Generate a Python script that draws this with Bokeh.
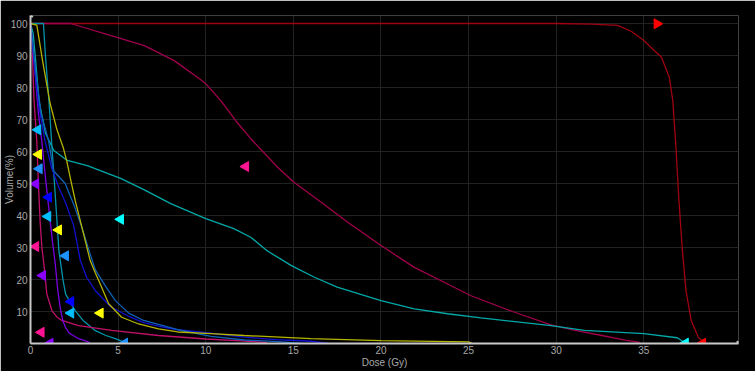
import numpy as np
from bokeh.plotting import figure
from bokeh.models import Range1d, FixedTicker, ColumnDataSource
from bokeh.embed import file_html
from bokeh.resources import INLINE

# ---- DVH curves (dose Gy, volume %) ----
ptv_dose = [0, 30, 32, 33.5, 34.3, 35, 35.6, 36.0, 36.45, 36.65, 36.84, 37.0, 37.2, 37.4, 37.7, 38.1, 38.4, 38.5]
ptv_vol = [100, 100, 99.8, 99.4, 97.5, 94.7, 91.5, 89.5, 83.2, 76, 60.3, 44.7, 29, 16.6, 7.2, 2, 0.4, 0]

crim_dose = [0, 2.3, 4.6, 6.5, 8.2, 9.7, 10.0, 10.86, 11.7, 12.57, 14.1, 15.03, 16.57, 18.1, 20, 21.9, 23.8, 25.1, 27.5, 29.7, 31, 32.6, 34, 34.7, 34.8]
crim_vol = [100, 100, 96.2, 93.1, 88.4, 82.5, 81.2, 75.9, 69.7, 64, 55.1, 50.4, 44.2, 37.9, 30.6, 23.8, 18.6, 15, 10, 5.8, 4.2, 2.5, 1, 0.4, 0]

cyan_dose = [0, 0.15, 0.3, 0.48, 0.86, 1.33, 2.1, 3.24, 5.14, 6.5, 8.0, 10, 11.6, 12.57, 13.5, 14.86, 16.2, 17.5, 20, 21.9, 23.8, 25.7, 29.7, 31.6, 35, 36.9, 37.3, 37.4]
cyan_vol = [100, 97, 88, 76, 65.6, 60.3, 57.2, 55.6, 51.6, 48, 43.7, 39, 35.9, 33.2, 29, 24.4, 20.7, 17.6, 13.4, 10.8, 9.3, 8.0, 5.6, 4.1, 3.1, 1.8, 0.4, 0]

teal_dose = [0, 0.74, 0.85, 1.05, 1.24, 1.43, 1.62, 1.7, 1.85, 2.0, 2.3, 2.55, 3.0, 3.7, 4.3, 4.84, 5.4, 5.45]
teal_vol = [100, 100, 90, 76, 60, 45, 29, 26, 20, 15.5, 12.5, 10.3, 7.2, 4, 2.5, 1.5, 0.3, 0]

pink_dose = [0, 0.1, 0.2, 0.3, 0.36, 0.45, 0.55, 0.65, 0.74, 0.93, 1.22, 1.5, 1.79, 2.74, 4.63, 7.3, 10, 12, 13.5]
pink_vol = [100, 92, 76, 68, 63, 50, 38, 30, 26, 15.5, 10.3, 8.3, 7.2, 5.6, 4.1, 2.5, 1.4, 0.8, 0.3]

purple_dose = [0, 0.15, 0.3, 0.45, 0.65, 0.85, 1.05, 1.25, 1.41, 1.55, 1.7, 1.85, 2.0, 2.2, 2.74, 3.3, 3.4]
purple_vol = [100, 92, 82, 72, 63, 52, 42, 32, 25, 17, 11, 7, 5, 3.3, 1.5, 0.5, 0]

blue_dose = [0, 0.2, 0.45, 0.84, 1.2, 1.6, 2.0, 2.46, 2.84, 3.2, 3.7, 4.57, 5.6, 6.47, 7.3, 8.38, 10.3, 12.2, 14, 16, 17]
blue_vol = [100, 88, 75, 63, 55, 49, 44, 37, 26, 20.7, 16.5, 11.5, 8.5, 6.5, 5.4, 4.3, 3.2, 2.0, 1.2, 0.7, 0]

steel_dose = [0, 0.3, 0.6, 1.03, 1.31, 1.98, 2.5, 2.93, 3.4, 3.7, 4.27, 4.84, 5.6, 6.46, 8.4, 10.3, 12.2, 14.1, 15.5]
steel_vol = [100, 85, 72, 63.4, 54, 50, 43, 36.3, 28, 23, 18, 13.4, 9.5, 7.2, 4.3, 2.2, 1.1, 0.6, 0]

yellow_dose = [0, 0.36, 0.7, 1.12, 1.5, 1.88, 2.07, 2.3, 2.55, 3.12, 3.4, 3.7, 3.98, 4.46, 5.2, 6.17, 7.3, 8.4, 10.3, 12.2, 16, 20, 25, 25.2]
yellow_vol = [100, 99.5, 88, 75, 67, 61, 57, 51, 44.7, 32.2, 26, 22, 18.6, 12.4, 8.2, 6.1, 4.6, 3.6, 3.1, 2.5, 1.5, 0.9, 0.5, 0]

curves = [
    (ptv_dose, ptv_vol, "#a00010"),
    (crim_dose, crim_vol, "#a0004c"),
    (cyan_dose, cyan_vol, "#00a8a8"),
    (teal_dose, teal_vol, "#0094ac"),
    (pink_dose, pink_vol, "#c0106a"),
    (purple_dose, purple_vol, "#7a00e0"),
    (blue_dose, blue_vol, "#1010d0"),
    (steel_dose, steel_vol, "#1060b8"),
    (yellow_dose, yellow_vol, "#b4b400"),
]

# ---- markers (dose, volume, colour, direction) ----
mark_dose = [0.42, 0.46, 0.5, 0.3, 1.03, 0.99, 1.6, 0.3, 2.0, 0.69, 2.3, 2.3, 3.98, 0.61, 1.12, 5.37, 5.14, 12.28, 35.75, 37.37, 38.36]
mark_vol = [66.8, 59.1, 54.6, 49.9, 45.7, 39.7, 35.5, 30.3, 27.4, 21.25, 13.1, 9.5, 9.5, 3.5, 0.1, 0.1, 38.8, 55.3, 99.9, 0.1, 0.1]
mark_color = ["#00bfff", "#ffff00", "#1e90ff", "#8a00ff", "#0000ff", "#00bfff", "#ffff00", "#ff1493",
              "#1e90ff", "#8a00ff", "#0000ff", "#00bfff", "#ffff00", "#ff1493", "#8a00ff", "#1e90ff",
              "#00ffff", "#ff1493", "#ff0000", "#00ffff", "#ff0000"]
mark_dir = ["left"] * 18 + ["right", "left", "left"]

x_ticks = [0, 5, 10, 15, 20, 25, 30, 35]
y_ticks = [10, 20, 30, 40, 50, 60, 70, 80, 90, 100]

p = figure(width=755, height=371, output_backend="svg", toolbar_location=None,
           x_range=Range1d(0, 40.4), y_range=Range1d(0, 102.5),
           min_border_left=30, min_border_right=17, min_border_top=15, min_border_bottom=28)
p.background_fill_color = "#000000"
p.border_fill_color = "#000000"
p.outline_line_color = None

for ax in (p.xaxis[0], p.yaxis[0]):
    ax.axis_line_color = "#c8c8c8"
    ax.axis_line_width = 2
    ax.major_tick_line_color = None
    ax.minor_tick_line_color = None
    ax.major_tick_out = 0
    ax.major_tick_in = 0
    ax.minor_tick_out = 0
    ax.minor_tick_in = 0
    ax.major_label_text_color = "#a8a8a8"
    ax.major_label_text_font = "Liberation Sans"
    ax.major_label_text_font_size = "10px"
    ax.axis_label_text_color = "#a8a8a8"
    ax.axis_label_text_font = "Liberation Sans"
    ax.axis_label_text_font_size = "10px"
    ax.axis_label_text_font_style = "normal"

p.yaxis.major_label_standoff = 3
p.xaxis.major_label_standoff = 2
p.xaxis.axis_label_standoff = 0
p.yaxis.axis_label_standoff = -7

p.xaxis.ticker = FixedTicker(ticks=x_ticks)
p.yaxis.ticker = FixedTicker(ticks=y_ticks)
p.xaxis.axis_label = "Dose (Gy)"
p.yaxis.axis_label = "Volume(%)"

p.xgrid.ticker = FixedTicker(ticks=x_ticks)
p.ygrid.ticker = FixedTicker(ticks=y_ticks)
p.grid.grid_line_color = "#222222"
p.grid.grid_line_width = 1

for d, v, c in curves:
    p.line(d, v, line_color=c, line_width=1.3)

angles = [np.pi / 2 if m == "left" else -np.pi / 2 for m in mark_dir]
src = ColumnDataSource(dict(x=mark_dose, y=mark_vol, c=mark_color, a=angles))
p.scatter("x", "y", source=src, marker="triangle", size=10, angle="a",
          fill_color="c", line_color="c")

# axis end arrowheads
p.scatter([0], [102.5], marker="triangle", size=5, fill_color="#c8c8c8", line_color="#c8c8c8")
p.scatter([40.4], [0], marker="triangle", size=5, angle=-np.pi / 2, fill_color="#c8c8c8", line_color="#c8c8c8")

open("out.html", "w").write(file_html(p, INLINE))
